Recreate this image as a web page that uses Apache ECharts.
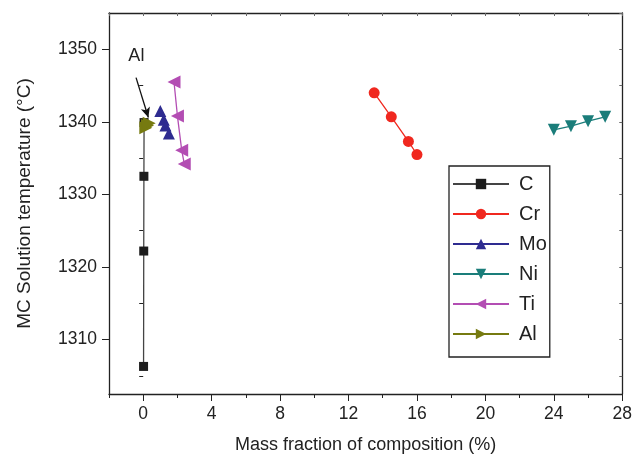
<!DOCTYPE html>
<html>
<head>
<meta charset="utf-8">
<script src="https://cdn.jsdelivr.net/npm/echarts@6/dist/echarts.min.js"></script>
<style>
  html, body { margin: 0; padding: 0; background: #fff; }
  #chart { width: 635px; height: 465px; }
</style>
</head>
<body>
<div id="chart"></div>
<script>
// data
var cX = [0.02, 0.03, 0.04, 0.05];
var cY = [1306.3, 1322.2, 1332.5, 1339.9];
var crX = [13.5, 14.5, 15.5, 16.0];
var crY = [1344.0, 1340.7, 1337.3, 1335.5];
var moX = [1.0, 1.2, 1.3, 1.5];
var moY = [1341.5, 1340.3, 1339.5, 1338.4];
var niX = [24, 25, 26, 27];
var niY = [1338.9, 1339.4, 1340.1, 1340.7];
var tiX = [1.8, 2.0, 2.25, 2.4];
var tiY = [1345.5, 1340.8, 1336.1, 1334.2];
var alX = [0.15, 0.25, 0.35];
var alY = [1339.2, 1339.5, 1339.8];

var xTicks = [0, 4, 8, 12, 16, 20, 24, 28];
var xMinorTicks = [-2, 2, 6, 10, 14, 18, 22, 26];
var yTicks = [1310, 1320, 1330, 1340, 1350];
var yMinorTicks = [1305, 1315, 1325, 1335, 1345, 1355];

var pairs = function (xs, ys) {
  var out = [];
  for (var i = 0; i < xs.length; i++) out.push([xs[i], ys[i]]);
  return out;
};

var FONT = '"Liberation Sans", Arial, sans-serif';
var AXIS_COLOR = '#222';

var lineSeries = function (name, xs, ys, color, lineColor, symbol, size, rotate) {
  return {
    name: name,
    type: 'line',
    data: pairs(xs, ys),
    symbol: symbol,
    symbolSize: size,
    symbolRotate: rotate || 0,
    showSymbol: true,
    animation: false,
    itemStyle: { color: color },
    lineStyle: { color: lineColor, width: 1.3 }
  };
};

var series = [
  lineSeries('C', cX, cY, '#1c1c1c', '#444', 'rect', 9),
  lineSeries('Cr', crX, crY, '#f0281f', '#f0281f', 'circle', 11),
  lineSeries('Mo', moX, moY, '#2e2b90', '#2e2b90', 'triangle', 12),
  lineSeries('Ni', niX, niY, '#1a7d7a', '#1a7d7a', 'triangle', 12, 180),
  lineSeries('Ti', tiX, tiY, '#b34db3', '#b34db3', 'triangle', 13, 90),
  lineSeries('Al', alX, alY, '#767a10', '#767a10', 'triangle', 13, -90)
];

// arrow + label pointing to the Al points
series[5].markLine = {
  silent: true,
  symbol: ['none', 'arrow'],
  symbolSize: [7, 10],
  label: { show: false },
  lineStyle: { color: '#111', width: 1.3, type: 'solid' },
  data: [[{ coord: [-0.42, 1346.1] }, { coord: [0.3, 1340.6] }]]
};
series[5].markPoint = {
  silent: true,
  symbol: 'circle',
  symbolSize: 0,
  label: { show: true, formatter: 'Al', color: '#222', fontSize: 18, fontFamily: FONT },
  data: [{ coord: [-0.4, 1349.1] }]
};

var plain = function (v) { return String(v); };

var option = {
  backgroundColor: '#fff',
  animation: false,
  grid: { left: 109, right: 12, top: 13, bottom: 71 },
  legend: {
    orient: 'vertical',
    left: 449,
    top: 166,
    padding: [8, 3, 13, 3],
    itemWidth: 56,
    itemHeight: 13,
    itemGap: 10,
    borderColor: '#222',
    borderWidth: 1.3,
    borderRadius: 0,
    textStyle: { fontSize: 20, color: '#222', fontFamily: FONT, padding: [0, 0, 0, 5] },
    data: ['C', 'Cr', 'Mo', 'Ni', 'Ti', 'Al']
  },
  xAxis: [
    {
      type: 'value', position: 'bottom', min: -2, max: 28,
      name: 'Mass fraction of composition (%)', nameLocation: 'middle', nameGap: 42,
      nameTextStyle: { fontSize: 18, color: '#222', fontFamily: FONT },
      axisLine: { onZero: false, lineStyle: { color: AXIS_COLOR, width: 1.3 } },
      axisTick: { customValues: xTicks, length: 7, lineStyle: { color: AXIS_COLOR } },
      axisLabel: { customValues: xTicks, fontSize: 17.5, color: '#222', fontFamily: FONT, margin: 11, formatter: plain },
      splitLine: { show: false }
    },
    {
      type: 'value', position: 'bottom', min: -2, max: 28,
      axisLine: { show: false },
      axisTick: { customValues: xMinorTicks, length: 4, lineStyle: { color: AXIS_COLOR } },
      axisLabel: { show: false },
      splitLine: { show: false }
    },
    {
      type: 'value', position: 'top', min: -2, max: 28, interval: 2,
      axisLine: { onZero: false, lineStyle: { color: AXIS_COLOR, width: 1.3 } },
      axisTick: { inside: true, length: 3, lineStyle: { color: '#666' } },
      axisLabel: { show: false },
      splitLine: { show: false }
    }
  ],
  yAxis: [
    {
      type: 'value', position: 'left', min: 1302.5, max: 1355,
      name: 'MC Solution temperature (\u00b0C)', nameLocation: 'middle', nameGap: 75,
      nameTextStyle: { fontSize: 19, color: '#222', fontFamily: FONT },
      axisLine: { onZero: false, lineStyle: { color: AXIS_COLOR, width: 1.3 } },
      axisTick: { customValues: yTicks, length: 7, lineStyle: { color: AXIS_COLOR } },
      axisLabel: { customValues: yTicks, fontSize: 17.5, color: '#222', fontFamily: FONT, margin: 12, formatter: plain },
      splitLine: { show: false }
    },
    {
      type: 'value', position: 'left', min: 1302.5, max: 1355,
      axisLine: { show: false },
      axisTick: { customValues: yMinorTicks, length: 4, lineStyle: { color: AXIS_COLOR } },
      axisLabel: { show: false },
      splitLine: { show: false }
    },
    {
      type: 'value', position: 'right', min: 1302.5, max: 1355,
      axisLine: { onZero: false, lineStyle: { color: AXIS_COLOR, width: 1.3 } },
      axisTick: { inside: true, customValues: yMinorTicks.concat(yTicks), length: 3, lineStyle: { color: '#666' } },
      axisLabel: { show: false },
      splitLine: { show: false }
    }
  ],
  series: series
};

var chart = echarts.init(document.getElementById('chart'), null, { renderer: 'canvas' });
chart.setOption(option);
</script>
</body>
</html>
